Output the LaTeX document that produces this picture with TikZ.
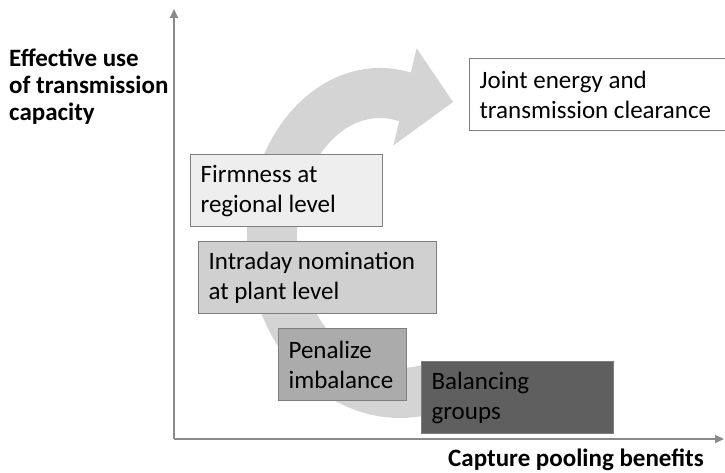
\documentclass[tikz,border=0pt]{standalone}
\usepackage{fontspec}
\setmainfont{Carlito}
\usetikzlibrary{arrows.meta, positioning}
\definecolor{axisline}{HTML}{8A8A8A}
\definecolor{stageborder}{HTML}{7F7F7F}
\definecolor{sweepfill}{HTML}{D4D4D4}
\definecolor{firmfill}{HTML}{EEEEEE}
\definecolor{dayfill}{HTML}{D0D0D0}
\definecolor{penfill}{HTML}{ABABAB}
\definecolor{balfill}{HTML}{5F5F5F}
\tikzset{
  stage/.style={rectangle, draw=stageborder, line width=1.2pt, anchor=north west,
                align=flush left, inner xsep=10pt, inner ysep=0pt, minimum height=72pt,
                font=\fontsize{25}{30}\selectfont, text=black},
  axis/.style={draw=axisline, line width=1.8pt, -{Triangle[length=9pt, width=8pt]}},
  axislabel/.style={font=\fontsize{25}{27}\selectfont\bfseries, inner sep=0pt, align=flush left},
  sweep/.style={fill=sweepfill, draw=none},
}
\begin{document}
\begin{tikzpicture}[x=1pt, y=1pt]
\useasboundingbox (0,0) rectangle (725,473);

% Axes
\coordinate (origin) at (174,34);
\coordinate (ytip) at (174,464);
\coordinate (xtip) at (724,34);
\draw[axis] (origin) -- (ytip);
\draw[axis] (origin) -- (xtip);
\node[axislabel, anchor=north west] (ylabel) at (9,424) {Effective use\\of transmission\\capacity};
\node[axislabel, anchor=base east] (xlabel) at (704,6) {Capture pooling benefits};

% Curved progress arrow (behind the stages)
\fill[sweep] (439.6,61.2)
  arc[start angle=285, end angle=180, x radius=153, y radius=181]
  arc[start angle=180, end angle=76.6, x radius=133, y radius=169]
  -- (416.6,424.7) -- (453,371) -- (393.4,327.5) -- (399.2,351.8)
  arc[start angle=76.6, end angle=180, x radius=83, y radius=119]
  arc[start angle=180, end angle=285, x radius=103, y radius=131]
  -- cycle;

% Stages
\node[stage, fill=firmfill, text width=172pt] (firm) at (190,319) {Firmness at\\regional level};
\node[stage, fill=dayfill, text width=218pt] (intraday) at (198,232) {Intraday nomination\\at plant level};
\node[stage, fill=penfill, text width=108pt] (penalize) at (278,145) {Penalize\\imbalance};
\node[stage, fill=balfill, text width=172pt] (balancing) at (421,112) {Balancing\\groups};
\node[stage, fill=white, text width=240pt] (joint) at (469,415) {Joint energy and\\transmission clearance};

\end{tikzpicture}
\end{document}
